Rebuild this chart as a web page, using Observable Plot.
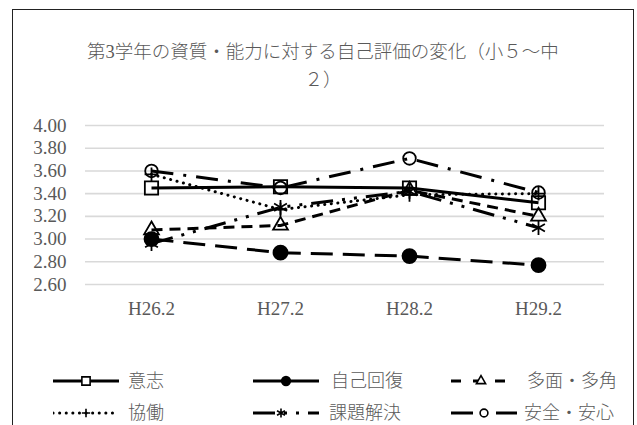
<!DOCTYPE html>
<html>
<head>
<meta charset="utf-8">
<script src="https://cdn.jsdelivr.net/npm/d3@7"></script>
<script src="https://cdn.jsdelivr.net/npm/@observablehq/plot@0.6"></script>
<style>
  html, body { margin: 0; padding: 0; overflow: hidden; background: #fff; }
  body { width: 637px; height: 425px; position: relative; font-family: "Liberation Serif", "Noto Sans CJK JP", serif; color: #595959; }
  #frame { position: absolute; left: 12px; top: 9px; width: 622px; height: 440px; box-sizing: border-box; border: 1.6px solid #222; }
  #title { position: absolute; left: 13px; width: 620px; top: 38px; text-align: center; font-size: 18.5px; line-height: 28px; color: #595959; font-weight: 300; }
  #chart { position: absolute; left: 0; top: 0; }
  .leg { position: absolute; height: 24px; line-height: 24px; font-size: 18px; color: #595959; white-space: nowrap; font-weight: 300; }
  .leg svg { position: absolute; left: 0; top: 4px; }
  .leg span { position: absolute; top: 0; }
</style>
</head>
<body>
<div id="frame"></div>
<div id="title">第3学年の資質・能力に対する自己評価の変化（小５～中<br>２）</div>
<div id="chart"></div>
<div id="legend"></div>
<script>
// ---- data ----
const categories = ["H26.2", "H27.2", "H28.2", "H29.2"];
const seriesNames = ["意志", "自己回復", "多面・多角", "協働", "課題解決", "安全・安心"];
const ishi        = [3.45, 3.46, 3.45, 3.32];
const jikoKaifuku = [3.00, 2.88, 2.85, 2.77];
const tamen       = [3.08, 3.12, 3.43, 3.20];
const kyodo       = [3.57, 3.26, 3.39, 3.40];
const kadai       = [2.96, 3.28, 3.42, 3.10];
const anzen       = [3.60, 3.45, 3.71, 3.41];
const yTicks      = [2.6, 2.8, 3.0, 3.2, 3.4, 3.6, 3.8, 4.0];

// ---- styles per series ----
const styles = [
  {values: ishi,        dash: null,           legDash: null,           legMx: 33, symbol: "square",   r: 7.5, fill: "none",  cap: "butt"},
  {values: jikoKaifuku, dash: "22,10",        legDash: null,           legMx: 33, symbol: "circle",   r: 7,   fill: "black", cap: "butt"},
  {values: tamen,       dash: "11,7",         legDash: "10,12",        legMx: 30, symbol: "triangle", r: 5.5, fill: "none",  cap: "butt"},
  {values: kyodo,       dash: "0.1,6.5",      legDash: "0.1,6.5",      legMx: 33, symbol: "plus",     r: 4.5, fill: "none",  cap: "round"},
  {values: kadai,       dash: "22,9,3,9,3,9", legDash: "22,9,3,9,3,9", legMx: 28, symbol: "asterisk", r: 7,   fill: "none",  cap: "butt"},
  {values: anzen,       dash: "22,10,3,10",   legDash: "22,10,3,10",   legMx: 33, symbol: "circle",   r: 6.3, fill: "none",  cap: "butt"}
];

const fmt = d3.format(".2f");
const seriesMarks = [];
styles.forEach((s, i) => {
  const rows = categories.map((c, j) => ({cat: c, value: s.values[j], name: seriesNames[i]}));
  const lineOpts = {x: "cat", y: "value", stroke: "black", strokeWidth: 3, strokeLinecap: s.cap};
  if (s.dash) lineOpts.strokeDasharray = s.dash;
  seriesMarks.push(Plot.line(rows, lineOpts));
  seriesMarks.push(Plot.dot(rows, {x: "cat", y: "value", symbol: s.symbol, r: s.r,
    stroke: "black", strokeWidth: 1.8, fill: s.fill}));
});

const chart = Plot.plot({
  width: 637,
  height: 330,
  marginLeft: 85,
  marginRight: 33,
  marginTop: 125,
  marginBottom: 46,
  x: {type: "point", domain: categories, padding: 0.5, label: null},
  y: {domain: [2.6, 4.0], label: null},
  style: {fontFamily: "'Liberation Serif', 'Noto Sans CJK JP', serif", fontSize: "19px", color: "#595959", background: "transparent", overflow: "visible"},
  marks: [
    Plot.ruleY(yTicks, {stroke: "#d9d9d9", strokeWidth: 1.6}),
    Plot.axisY({ticks: yTicks, tickFormat: fmt, tickSize: 0, tickPadding: 19, label: null}),
    Plot.axisX({tickSize: 0, tickPadding: 17, label: null}),
    ...seriesMarks
  ]
});
document.getElementById("chart").appendChild(chart);

// ---- legend ----
const legendPos = [
  {x: 53,  y: 369, tx: 75},
  {x: 253, y: 369, tx: 78},
  {x: 451, y: 369, tx: 76},
  {x: 53,  y: 401, tx: 75},
  {x: 253, y: 401, tx: 76},
  {x: 451, y: 401, tx: 73}
];
const legendSymbols = {square: d3.symbolSquare, circle: d3.symbolCircle, triangle: d3.symbolTriangle,
  plus: d3.symbolPlus, asterisk: d3.symbolAsterisk};
const legend = document.getElementById("legend");
styles.forEach((s, i) => {
  const p = legendPos[i];
  const div = document.createElement("div");
  div.className = "leg";
  div.style.left = p.x + "px";
  div.style.top = p.y + "px";
  const sw = 66;
  const rr = s.r * 0.62;
  const path = d3.symbol(legendSymbols[s.symbol], Math.PI * rr * rr)();
  div.innerHTML =
    `<svg width="${sw}" height="16" viewBox="0 0 ${sw} 16">
       <line x1="0" y1="8" x2="${sw}" y2="8" stroke="black" stroke-width="3" stroke-linecap="${s.cap}" ${s.legDash ? `stroke-dasharray="${s.legDash}"` : ""}/>
       <path d="${path}" transform="translate(${s.legMx},8)" stroke="black" stroke-width="1.6" fill="${s.fill === "black" ? "black" : "white"}"/>
     </svg><span style="left:${p.tx}px">${seriesNames[i]}</span>`;
  legend.appendChild(div);
});
</script>
</body>
</html>
